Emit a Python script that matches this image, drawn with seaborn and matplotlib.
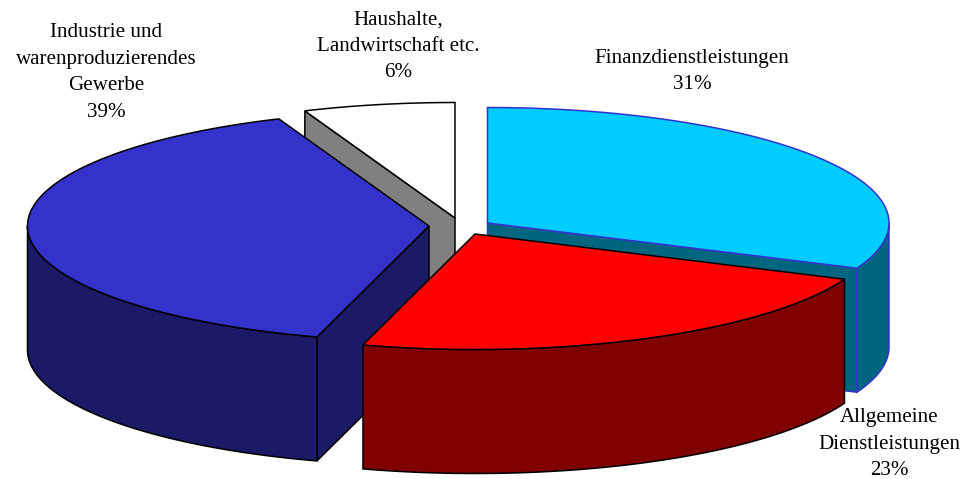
import numpy as np
import matplotlib
matplotlib.use("Agg")
import matplotlib.pyplot as plt
import seaborn as sns

# Data: clockwise from 12 o'clock
categories = ["Finanzdienstleistungen", "Allgemeine\nDienstleistungen",
              "Industrie und\nwarenproduzierendes\nGewerbe", "Haushalte,\nLandwirtschaft etc."]
shares = [31.4, 23.1, 39.4, 6.1]
share_labels = ["31%", "23%", "39%", "6%"]

# Styles
top_colors = ["#00CCFF", "#FF0000", "#3333CC", "#FFFFFF"]
side_colors = ["#006680", "#800000", "#1A1A66", "#808080"]
edge_colors = ["#3333CC", "#000000", "#000000", "#000000"]
tips = [(487.5, 223), (475, 234), (429, 226), (455, 218)]
label_pos = [(692, 71.5), (889, 444), (106, 72.5), (398, 46)]
RX, RY, DEPTH = 401.5, 115.5, 124

sns.set_theme(style="white")
plt.rcParams["font.family"] = ["Liberation Serif", "DejaVu Serif"]

fig, ax = plt.subplots(figsize=(9.62, 4.79), dpi=100)
ax.set_position([0, 0, 1, 1])
ax.set_xlim(0, 962)
ax.set_ylim(479, 0)
ax.axis("off")


def rim(tip, a0, a1):
    t = np.radians(np.linspace(a0, a1, max(int(abs(a1 - a0)) * 2, 2)))
    return tip[0] + RX * np.sin(t), tip[1] - RY * np.cos(t)


def quad(xa, ya, xb, yb, color, edge, z):
    xs = [xa, xb, xb, xa]
    ys = [ya, yb, yb + DEPTH, ya + DEPTH]
    ax.fill(xs, ys, facecolor=color, edgecolor=edge, linewidth=1.1, zorder=z, joinstyle="miter")


bounds = np.concatenate([[0], np.cumsum(shares) / np.sum(shares) * 360])
# painter's order: back slices first
order = [3, 0, 2, 1]
for rank, i in enumerate(order):
    a0, a1 = bounds[i], bounds[i + 1]
    tip = tips[i]
    z = 2 + rank * 3
    edge = edge_colors[i]

    # cut face of the slice where it faces the viewer
    if i == 0:
        x, y = rim(tip, a1, a1)
        quad(tip[0], tip[1], x[0], y[0], side_colors[i], edge, z)
    if i == 2:
        x, y = rim(tip, a0, a0)
        quad(tip[0], tip[1], x[0], y[0], side_colors[i], edge, z)
    if i == 3:
        x, y = rim(tip, a0, a0)
        quad(x[0], y[0], tip[0], tip[1], side_colors[i], edge, z)

    # outer rim, front half of the ellipse only
    f0, f1 = max(a0, 90), min(a1, 270)
    if f1 > f0:
        x, y = rim(tip, f0, f1)
        ax.fill(np.r_[x, x[::-1]], np.r_[y, y[::-1] + DEPTH], facecolor=side_colors[i],
                edgecolor=edge, linewidth=1.1, zorder=z + 1, joinstyle="miter")

    # top face
    x, y = rim(tip, a0, a1)
    ax.fill(np.r_[tip[0], x], np.r_[tip[1], y], facecolor=top_colors[i],
            edgecolor=edge, linewidth=1.1, zorder=z + 2, joinstyle="miter")

for name, pct, (lx, ly) in zip(categories, share_labels, label_pos):
    ax.text(lx, ly, name + "\n" + pct, ha="center", va="center", fontsize=15.1,
            color="black", linespacing=1.53, zorder=30)

fig.savefig("out.png", dpi=100, facecolor="white")
